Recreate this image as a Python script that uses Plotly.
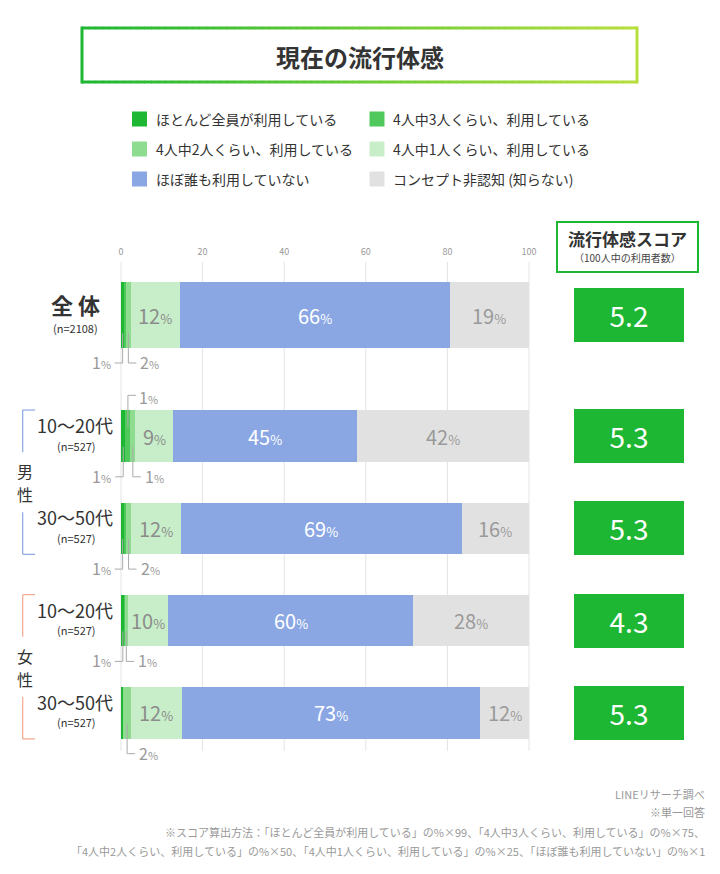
import plotly.graph_objects as go

W, H = 720, 874
FONT = "Noto Sans CJK JP"

# ---------------- data ----------------
row_ids = ["全体", "男性10〜20代", "男性30〜50代", "女性10〜20代", "女性30〜50代"]
row_names = ["全 体", "10〜20代", "30〜50代", "10〜20代", "30〜50代"]
row_n = ["(n=2108)", "(n=527)", "(n=527)", "(n=527)", "(n=527)"]
groups = ["男性", "女性"]

series_names = ["ほとんど全員が利用している", "4人中3人くらい、利用している",
                "4人中2人くらい、利用している", "4人中1人くらい、利用している",
                "ほぼ誰も利用していない", "コンセプト非認知 (知らない)"]

v_almost_all = [0.8, 1.1, 0.8, 0.9, 0.5]
v_3of4 = [0.4, 1.2, 0.4, 0.1, 0.1]
v_2of4 = [1.2, 1.2, 1.3, 0.6, 1.8]
v_1of4 = [12.0, 9.3, 12.1, 10.0, 12.5]
v_nobody = [66.2, 45.0, 68.9, 60.0, 73.1]
v_unaware = [19.4, 42.2, 16.5, 28.4, 12.0]

# printed labels
lbl_almost_all = [1, 1, 1, 1, None]
lbl_3of4 = [None, 1, None, None, None]
lbl_2of4 = [2, 1, 2, 1, 2]
lbl_1of4 = [12, 9, 12, 10, 12]
lbl_nobody = [66, 45, 69, 60, 73]
lbl_unaware = [19, 42, 16, 28, 12]

scores = [5.2, 5.3, 5.3, 4.3, 5.3]
x_ticks = [0, 20, 40, 60, 80, 100]

# ---------------- styles / layout ----------------
colors = ["#1db733", "#4fc85c", "#8ddc90", "#c7eec9", "#8aa7e4", "#e1e1e1"]
text_colors = [None, None, None, "#8c8c8c", "#ffffff", "#9a9a9a"]
series_vals = [v_almost_all, v_3of4, v_2of4, v_1of4, v_nobody, v_unaware]
series_lbls = [lbl_almost_all, lbl_3of4, lbl_2of4, lbl_1of4, lbl_nobody, lbl_unaware]

X0, X1 = 121, 529           # pixel extent of the value axis
TOP_DOM = (262, 368)        # 全体 subplot (px)
BOT_DOM = (389.9, 759.1)    # gender/age subplot (px)
STEP = (BOT_DOM[1] - BOT_DOM[0]) / 4
BAR0_H, BAR_H = 66, 51.5


def xp(v):
    return (X0 + v / 100 * (X1 - X0)) / W


def px(x):
    return x / W


def yp(py):
    return 1 - py / H


row_center = [(TOP_DOM[0] + TOP_DOM[1]) / 2] + [BOT_DOM[0] + (i + 0.5) * STEP for i in range(4)]
row_h = [BAR0_H] + [BAR_H] * 4

fig = go.Figure()
annotations = []
shapes = []

for k in range(6):
    vals = series_vals[k]
    for rows, xa, ya, w in [([0], "x", "y", BAR0_H / (TOP_DOM[1] - TOP_DOM[0])),
                            ([1, 2, 3, 4], "x2", "y2", BAR_H / STEP)]:
        fig.add_trace(go.Bar(
            orientation="h",
            x=[vals[r] for r in rows],
            y=[row_ids[r] for r in rows],
            width=w,
            marker=dict(color=colors[k], line=dict(width=0)),
            xaxis=xa, yaxis=ya,
            name=series_names[k],
            showlegend=False,
            hoverinfo="skip",
        ))

# big in-bar labels, placed at the data midpoint of each segment
for k in (3, 4, 5):
    for r in range(5):
        start = sum(series_vals[j][r] for j in range(k))
        mid = start + series_vals[k][r] / 2
        annotations.append(dict(
            text=f"{series_lbls[k][r]}<span style='font-size:13px'>%</span>",
            x=mid, y=row_ids[r], xref="x" if r == 0 else "x2", yref="y" if r == 0 else "y2",
            showarrow=False, xanchor="center", yanchor="middle",
            font=dict(size=20, color=text_colors[k], family=FONT)))

# grid lines
for t in x_ticks:
    shapes.append(dict(type="line", xref="paper", yref="paper", x0=xp(t), x1=xp(t),
                       y0=yp(262), y1=yp(751), line=dict(color="#e4e4e4", width=1), layer="below"))


# title box with gradient border
def lerp_color(c1, c2, t):
    a = [int(c1[i:i + 2], 16) for i in (1, 3, 5)]
    b = [int(c2[i:i + 2], 16) for i in (1, 3, 5)]
    return "#" + "".join(f"{int(round(a[j] + (b[j] - a[j]) * t)):02x}" for j in range(3))


TB = (82, 28, 637, 82)
c_left, c_right = "#1db733", "#b7df3b"
N = 80
for i in range(N):
    xa_ = TB[0] + (TB[2] - TB[0]) * i / N
    xb_ = TB[0] + (TB[2] - TB[0]) * (i + 1) / N
    col = lerp_color(c_left, c_right, (i + 0.5) / N)
    for yy in (TB[1], TB[3]):
        shapes.append(dict(type="line", xref="paper", yref="paper", x0=px(xa_ - 0.3), x1=px(xb_ + 0.3),
                           y0=yp(yy), y1=yp(yy), line=dict(color=col, width=3)))
shapes.append(dict(type="line", xref="paper", yref="paper", x0=px(TB[0]), x1=px(TB[0]),
                   y0=yp(TB[1] - 1.5), y1=yp(TB[3] + 1.5), line=dict(color=c_left, width=3)))
shapes.append(dict(type="line", xref="paper", yref="paper", x0=px(TB[2]), x1=px(TB[2]),
                   y0=yp(TB[1] - 1.5), y1=yp(TB[3] + 1.5), line=dict(color=c_right, width=3)))
annotations.append(dict(text="<b>現在の流行体感</b>", x=px(360), y=yp(56), xref="paper", yref="paper",
                        showarrow=False, font=dict(size=24, color="#333333", family=FONT),
                        xanchor="center", yanchor="middle"))

# legend
leg_cols = [132, 369.5]
leg_rows = [119, 149, 179]
for k, name in enumerate(series_names):
    cx = leg_cols[k % 2]
    cy = leg_rows[k // 2]
    shapes.append(dict(type="rect", xref="paper", yref="paper", x0=px(cx), x1=px(cx + 15),
                       y0=yp(cy - 7.5), y1=yp(cy + 7.5), fillcolor=colors[k], line=dict(width=0)))
    annotations.append(dict(text=name, x=px(cx + 22), y=yp(cy), xref="paper", yref="paper",
                            showarrow=False, xanchor="left", yanchor="middle",
                            font=dict(size=14, color="#333333", family=FONT)))

# small labels with leader lines
LC = "#ababab"


def small_label(r, k, place, n):
    start = sum(series_vals[j][r] for j in range(k))
    mid = start + series_vals[k][r] / 2
    x = X0 + mid / 100 * (X1 - X0)
    top = row_center[r] - row_h[r] / 2
    bot = row_center[r] + row_h[r] / 2
    txt = f"{n}<span style='font-size:11px'>%</span>"
    font = dict(size=16, color="#9a9a9a", family=FONT)
    if place == "above":
        yl = top - 15
        shapes.append(dict(type="line", xref="paper", yref="paper", x0=px(x), x1=px(x),
                           y0=yp(top + 17), y1=yp(yl), line=dict(color=LC, width=1)))
        shapes.append(dict(type="line", xref="paper", yref="paper", x0=px(x), x1=px(x + 8),
                           y0=yp(yl), y1=yp(yl), line=dict(color=LC, width=1)))
        annotations.append(dict(text=txt, x=px(x + 9), y=yp(yl + 2), xref="paper", yref="paper",
                                showarrow=False, xanchor="left", yanchor="middle", font=font))
    else:
        yl = bot + 15
        shapes.append(dict(type="line", xref="paper", yref="paper", x0=px(x), x1=px(x),
                           y0=yp(bot - 15), y1=yp(yl), line=dict(color=LC, width=1)))
        if place == "left":
            shapes.append(dict(type="line", xref="paper", yref="paper", x0=px(x - 8), x1=px(x),
                               y0=yp(yl), y1=yp(yl), line=dict(color=LC, width=1)))
            annotations.append(dict(text=txt, x=px(x - 10), y=yp(yl - 1), xref="paper", yref="paper",
                                    showarrow=False, xanchor="right", yanchor="middle", font=font))
        else:
            shapes.append(dict(type="line", xref="paper", yref="paper", x0=px(x), x1=px(x + 8),
                               y0=yp(yl), y1=yp(yl), line=dict(color=LC, width=1)))
            annotations.append(dict(text=txt, x=px(x + 10), y=yp(yl - 1), xref="paper", yref="paper",
                                    showarrow=False, xanchor="left", yanchor="middle", font=font))


for r in range(5):
    if lbl_almost_all[r] is not None:
        small_label(r, 0, "left", lbl_almost_all[r])
    if lbl_3of4[r] is not None:
        small_label(r, 1, "above", lbl_3of4[r])
    if lbl_2of4[r] is not None:
        small_label(r, 2, "right", lbl_2of4[r])

# row labels
for r in range(5):
    c = row_center[r]
    if r == 0:
        annotations.append(dict(text="<b>" + row_names[r] + "</b>", x=px(75), y=yp(c - 11), xref="paper",
                                yref="paper", showarrow=False, xanchor="center", yanchor="middle",
                                font=dict(size=22, color="#333", family=FONT)))
        annotations.append(dict(text=row_n[r], x=px(75), y=yp(c + 13), xref="paper", yref="paper",
                                showarrow=False, xanchor="center", yanchor="middle",
                                font=dict(size=11, color="#333", family=FONT)))
    else:
        annotations.append(dict(text=row_names[r], x=px(75), y=yp(c - 11), xref="paper",
                                yref="paper", showarrow=False, xanchor="center", yanchor="middle",
                                font=dict(size=18, color="#333", family=FONT)))
        annotations.append(dict(text=row_n[r], x=px(76), y=yp(c + 9.5), xref="paper", yref="paper",
                                showarrow=False, xanchor="center", yanchor="middle",
                                font=dict(size=11, color="#333", family=FONT)))

# group brackets
bracket_colors = ["#8aa7e4", "#f2a78d"]
for g, name in enumerate(groups):
    r1, r2 = 1 + 2 * g, 2 + 2 * g
    top = row_center[r1] - 26
    bot = row_center[r2] + 26
    mid = (top + bot) / 2
    col = bracket_colors[g]
    for seg in [((35, top), (22.7, top)), ((22.7, top), (22.7, mid - 30)),
                ((22.7, mid + 30), (22.7, bot)), ((22.7, bot), (35, bot))]:
        shapes.append(dict(type="line", xref="paper", yref="paper", x0=px(seg[0][0]), y0=yp(seg[0][1]),
                           x1=px(seg[1][0]), y1=yp(seg[1][1]), line=dict(color=col, width=1.2)))
    for j, ch in enumerate(name):
        annotations.append(dict(text=ch, x=px(25), y=yp(mid - 11 + 23 * j), xref="paper",
                                yref="paper", showarrow=False, xanchor="center", yanchor="middle",
                                borderpad=0, font=dict(size=16, color="#333", family=FONT)))

# score header
shapes.append(dict(type="rect", xref="paper", yref="paper", x0=px(557), x1=px(698), y0=yp(222), y1=yp(272),
                   line=dict(color="#1db733", width=2), fillcolor="rgba(0,0,0,0)"))
annotations.append(dict(text="<b>流行体感スコア</b>", x=px(627.5), y=yp(239), xref="paper", yref="paper",
                        showarrow=False, xanchor="center", yanchor="middle",
                        font=dict(size=17, color="#333", family=FONT)))
annotations.append(dict(text="（100人中の利用者数）", x=px(627.5), y=yp(257), xref="paper", yref="paper",
                        showarrow=False, xanchor="center", yanchor="middle",
                        font=dict(size=10, color="#444", family=FONT)))

# score boxes
for r in range(5):
    annotations.append(dict(text=f"{scores[r]:.1f}", x=px(628.5), y=row_ids[r], xref="paper",
                            yref="y" if r == 0 else "y2", showarrow=False, width=110, height=54,
                            bgcolor="#1db733", borderpad=0, borderwidth=0, xanchor="center", yanchor="middle",
                            font=dict(size=28, color="#ffffff", family=FONT)))

# footer
footer = ["LINEリサーチ調べ", "※単一回答",
          "※スコア算出方法：「ほとんど全員が利用している」の%×99、「4人中3人くらい、利用している」の%×75、",
          "「4人中2人くらい、利用している」の%×50、「4人中1人くらい、利用している」の%×25、「ほぼ誰も利用していない」の%×1"]
footer_y = [794, 812, 832, 851]
for t, yy in zip(footer, footer_y):
    annotations.append(dict(text=t, x=px(707), y=yp(yy), xref="paper", yref="paper", showarrow=False,
                            xanchor="right", yanchor="middle", font=dict(size=11, color="#999", family=FONT)))

fig.update_layout(
    template="none",
    width=W, height=H, autosize=False, margin=dict(l=0, r=0, t=0, b=0, pad=0, autoexpand=False),
    paper_bgcolor="white", plot_bgcolor="rgba(0,0,0,0)",
    barmode="stack", showlegend=False,
    font=dict(family=FONT),
    xaxis=dict(domain=[X0 / W, X1 / W], range=[0, 100], side="top", anchor="y", automargin=False,
               tickvals=x_ticks, ticks="", showgrid=False, zeroline=False, showline=False,
               tickfont=dict(size=9, color="#999"), ticklabelstandoff=4, fixedrange=True),
    xaxis2=dict(domain=[X0 / W, X1 / W], range=[0, 100], anchor="y2", showticklabels=False, automargin=False,
                ticks="", showgrid=False, zeroline=False, showline=False, fixedrange=True),
    yaxis=dict(domain=[yp(TOP_DOM[1]), yp(TOP_DOM[0])], type="category", categoryorder="array",
               categoryarray=row_ids[:1], range=[-0.5, 0.5], anchor="x", showticklabels=False,
               automargin=False, showgrid=False, zeroline=False, fixedrange=True),
    yaxis2=dict(domain=[yp(BOT_DOM[1]), yp(BOT_DOM[0])], type="category", categoryorder="array",
                categoryarray=row_ids[1:], range=[3.5, -0.5], anchor="x2", showticklabels=False,
                automargin=False, showgrid=False, zeroline=False, fixedrange=True),
    shapes=shapes, annotations=annotations,
)

fig.write_html("out.html", config={"responsive": False})
